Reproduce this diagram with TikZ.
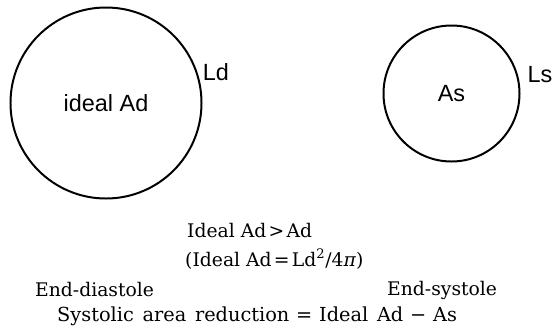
\documentclass[tikz,border=0pt]{standalone}
\usepackage{fontspec}
\setmainfont{DejaVu Serif}
\newfontfamily\lblfont{Liberation Sans}
\newcommand{\opsp}[1]{\hspace{0.12em}#1\hspace{0.12em}}
\newcommand{\wideop}[1]{\hspace{0.35em}#1\hspace{0.35em}}
\newcommand{\sumfont}{\fontsize{16.5}{18}\selectfont\spaceskip 0.45em\relax}
\usetikzlibrary{positioning}
\tikzset{
  areaoutline/.style={draw,circle,line width=1.7pt,inner sep=0pt,font=\lblfont\fontsize{20}{22}\selectfont},
  perimlabel/.style={font=\lblfont\fontsize{20}{22}\selectfont,inner sep=0pt},
  formula/.style={font=\fontsize{16}{18}\selectfont,inner sep=0pt,anchor=west},
  sumline/.style={formula,font=\sumfont}
}
\begin{document}
\begin{tikzpicture}[x=0.03cm,y=-0.03cm]
\useasboundingbox (0,0) rectangle (552,327);
% end-diastole and end-systole outlines
\node[areaoutline,minimum size=5.73cm] (diast) at (106,103) {ideal Ad};
\node[areaoutline,minimum size=4.08cm] (syst) at (451.5,93.5) {As};
\node[perimlabel] (ld) at (216,72) {Ld};
\node[perimlabel] (ls) at (540,75) {Ls};
% formulas
\node[formula] (ineq) at (187,231) {Ideal Ad\opsp{>}Ad};
\node[formula] (ideal) at (185,259) {(Ideal Ad\opsp{=}Ld\textsuperscript{2}/4\textit{π})};
\node[formula] (ed) at (35,290) {End-diastole};
\node[formula] (es) at (387,290) {End-systole};
\node[sumline] (sar) at (57,316) {Systolic area reduction\wideop{=}Ideal Ad\wideop{−}As};
\end{tikzpicture}
\end{document}
